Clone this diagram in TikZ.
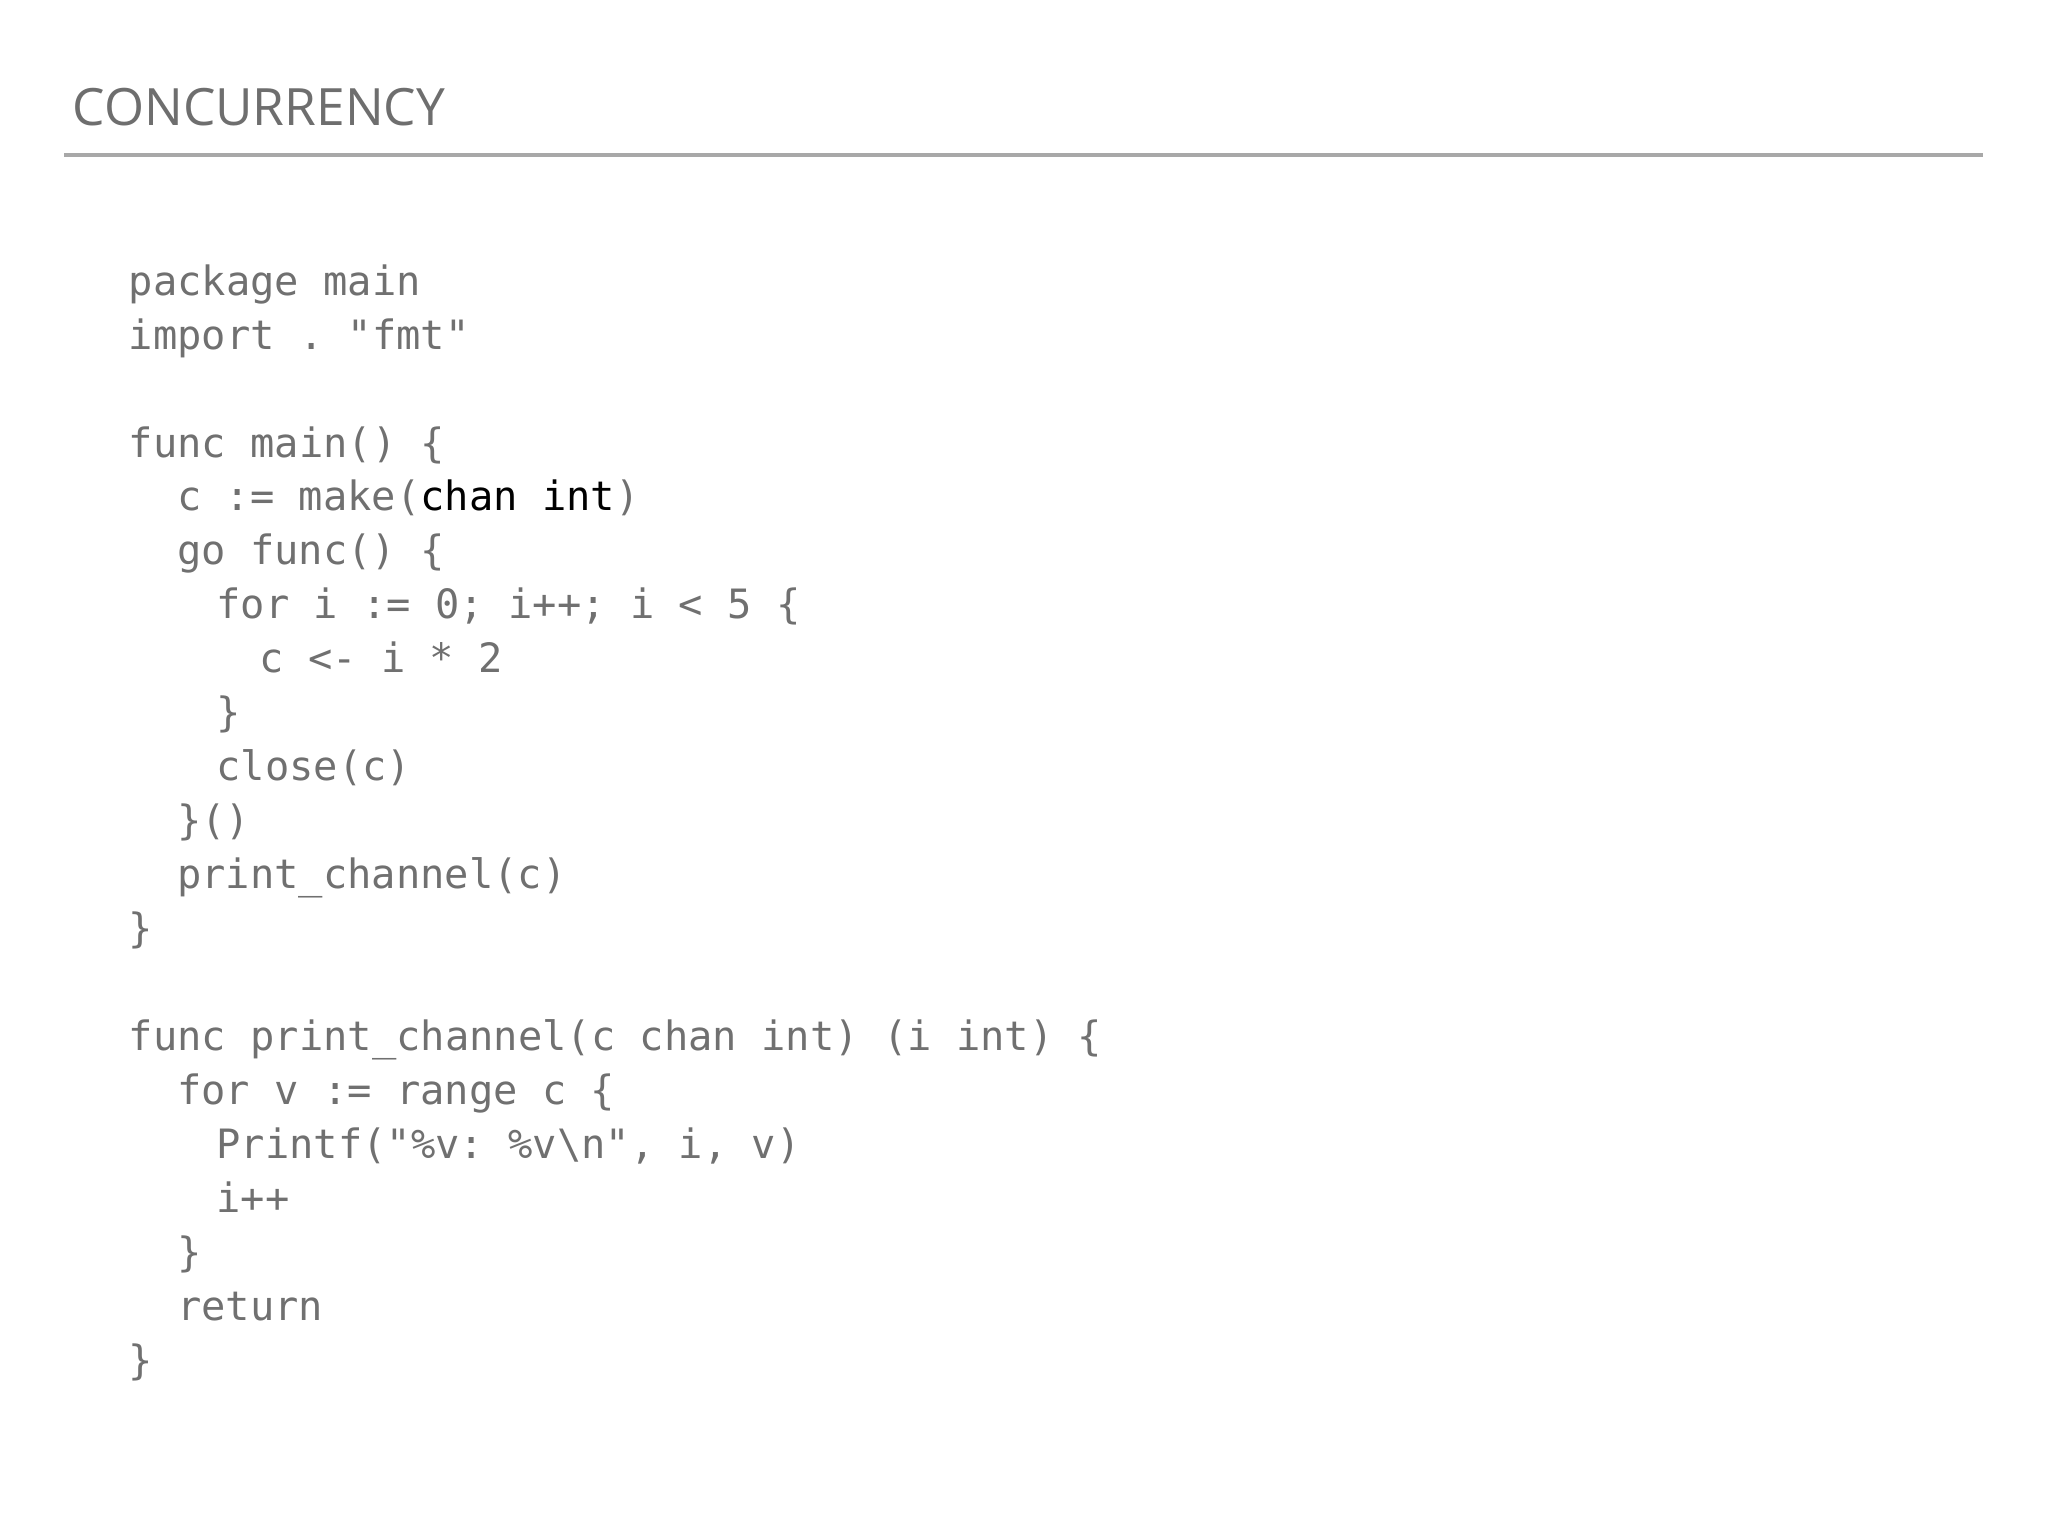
\documentclass[tikz,border=0pt]{standalone}
\usepackage{fontspec}
\setmainfont{Open Sans}
\setmonofont{DejaVu Sans Mono}
\definecolor{codegray}{HTML}{707070}
\definecolor{titlegray}{HTML}{6E6E6E}
\definecolor{rulegray}{HTML}{A8A8A8}
\begin{document}
\begin{tikzpicture}[x=0.01cm,y=-0.01cm,
  code/.style={anchor=base west,inner sep=0pt,text=codegray,font=\ttfamily\fontsize{8.8pt}{10pt}\selectfont}]
\useasboundingbox (0,0) rectangle (1568,1176);
\node[anchor=base west,inner sep=0pt,text=titlegray,font=\fontsize{11.2pt}{13pt}\selectfont] (title) at (55,96) {CONCURRENCY};
\coordinate (r1) at (49,119); \coordinate (r2) at (1518,119);
\draw[rulegray,line width=0.9pt] (r1) -- (r2);
\def\ls{41.3}
\node[code] (l0) at (98,226+0*\ls) {package main};
\node[code] (l1) at (98,226+1*\ls) {import . "fmt"};
\node[code] (l3) at (98,226+3*\ls) {func main() \{};
\node[code] (l4) at (135,226+4*\ls) {c := make(\textcolor{black}{chan int})};
\node[code] (l5) at (135,226+5*\ls) {go func() \{};
\node[code] (l6) at (165,226+6*\ls) {for i := 0; i++; i < 5 \{};
\node[code] (l7) at (198,226+7*\ls) {c <- i * 2};
\node[code] (l8) at (165,226+8*\ls) {\}};
\node[code] (l9) at (165,226+9*\ls) {close(c)};
\node[code] (l10) at (135,226+10*\ls) {\}()};
\node[code] (l11) at (135,226+11*\ls) {print\_channel(c)};
\node[code] (l12) at (98,226+12*\ls) {\}};
\node[code] (l14) at (98,226+14*\ls) {func print\_channel(c chan int) (i int) \{};
\node[code] (l15) at (135,226+15*\ls) {for v := range c \{};
\node[code] (l16) at (165,226+16*\ls) {Printf("\%v: \%v\textbackslash n", i, v)};
\node[code] (l17) at (165,226+17*\ls) {i++};
\node[code] (l18) at (135,226+18*\ls) {\}};
\node[code] (l19) at (135,226+19*\ls) {return};
\node[code] (l20) at (98,226+20*\ls) {\}};
\end{tikzpicture}
\end{document}
